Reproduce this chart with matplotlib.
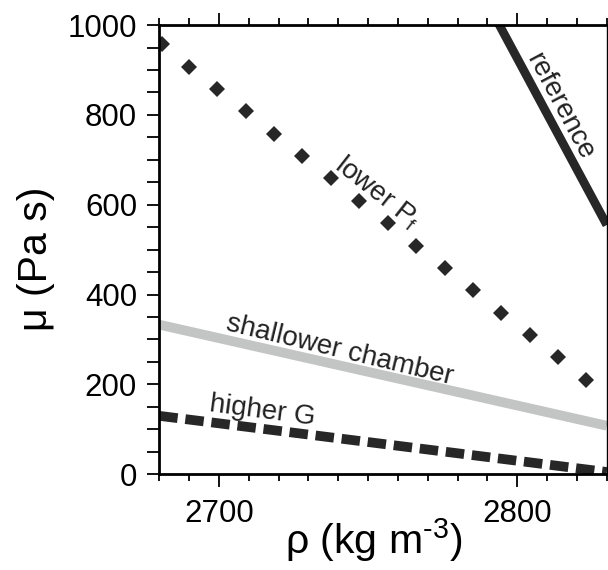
import matplotlib
matplotlib.use("Agg")
import matplotlib.pyplot as plt
from matplotlib.ticker import MultipleLocator

plt.rcParams['font.family'] = ['Liberation Sans', 'DejaVu Sans']
plt.rcParams['mathtext.fontset'] = 'custom'
plt.rcParams['mathtext.rm'] = 'Liberation Sans'
plt.rcParams['mathtext.it'] = 'Liberation Sans'
plt.rcParams['mathtext.default'] = 'regular'

# ---- data ----
ref_x = [2780, 2830]
ref_y = [1173, 555]

lowerPf_x = [2680.8, 2689.9, 2699.5, 2709.0, 2718.5, 2728.0, 2737.4, 2746.9,
             2756.6, 2766.1, 2775.7, 2785.2, 2794.6, 2804.1, 2813.7, 2823.1]
lowerPf_y = [957.7, 907.2, 857.6, 808.6, 758.1, 708.4, 659.5, 609.0,
             558.6, 508.8, 459.2, 410.2, 359.7, 310.0, 260.4, 210.5]

shallow_x = [2680, 2830]
shallow_y = [333, 108]

higherG_x = [2680, 2830]
higherG_y = [130, 5]

xticks = [2700, 2800]
yticks = [0, 200, 400, 600, 800, 1000]

dark = '#272727'
gray = '#c3c4c4'

fig = plt.figure(figsize=(6.08, 5.70), dpi=100)
ax = fig.add_axes([0.262, 0.168, 0.736, 0.788])

ax.plot(ref_x, ref_y, color=dark, lw=6.3, solid_capstyle='butt')
ax.plot(lowerPf_x, lowerPf_y, ls='none', marker='D', ms=8.0, mew=0, color=dark)
ax.plot(shallow_x, shallow_y, color=gray, lw=7.0, solid_capstyle='butt')
ax.plot(higherG_x, higherG_y, color=dark, lw=7.0, dashes=(1.9, 0.8),
        dash_capstyle='butt')

ax.set_xlim(2680, 2830)
ax.set_ylim(0, 1000)

ax.set_xticks(xticks)
ax.set_yticks(yticks)
ax.xaxis.set_minor_locator(MultipleLocator(10))
ax.yaxis.set_minor_locator(MultipleLocator(50))

ax.tick_params(axis='x', which='both', direction='out', top=True, bottom=True,
               labelsize=22.5, width=1.3, pad=9)
ax.tick_params(axis='x', which='major', length=9)
ax.tick_params(axis='x', which='minor', length=5)
ax.tick_params(axis='y', which='both', direction='out', left=True, right=False,
               labelsize=22.5, width=1.3, length=9, pad=7)

for s in ['left', 'bottom', 'top']:
    ax.spines[s].set_linewidth(2.0)
ax.spines['right'].set_linewidth(1.0)
for s in ax.spines.values():
    s.set_color('black')

ax.set_xlabel('ρ (kg m$^{\\text{-3}}$)', fontsize=29.5)
ax.set_ylabel('μ (Pa s)', fontsize=29.5)
ax.xaxis.set_label_coords(0.48, -0.093)
ax.yaxis.set_label_coords(-0.232, 0.48)

tk = dict(color='#222222', fontsize=20, ha='center', va='center',
          rotation_mode='anchor')
ax.text(2814.3, 819.7, 'reference', rotation=-62, **tk)
ax.text(2753.1, 628, 'lower P$_f$', rotation=-38, **tk)
ax.text(2740.4, 276.6, 'shallower chamber', rotation=-13.5, **tk)
ax.text(2714.5, 140.9, 'higher G', rotation=-7.5, **tk)

fig.savefig('out.png', dpi=100)
